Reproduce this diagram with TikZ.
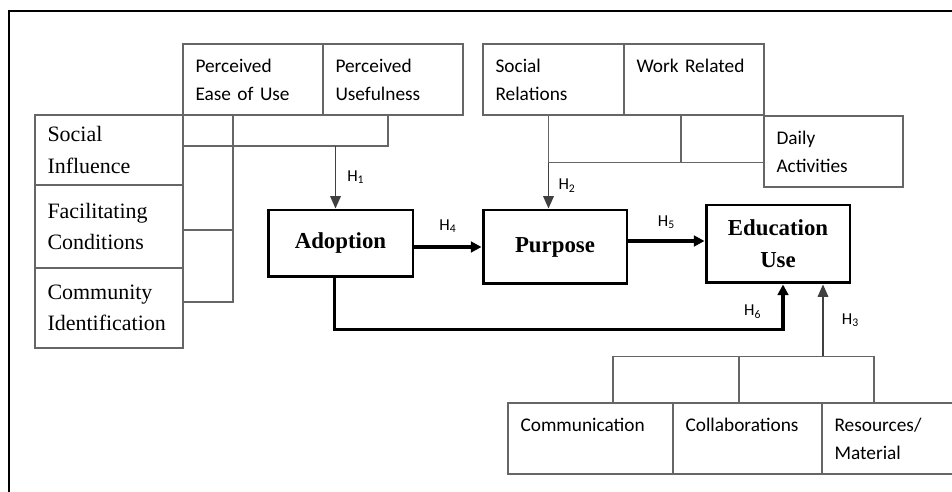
\documentclass[tikz,border=0pt]{standalone}
\usepackage{fontspec}
\setmainfont{Liberation Serif}
\setsansfont{Carlito}
\usetikzlibrary{arrows.meta}

\begin{document}
\begin{tikzpicture}[x=0.02cm,y=-0.02cm,
  thinbox/.style={draw=black!60,line width=.8pt,inner sep=0pt,align=left,
    minimum height=1.42cm,font=\sffamily\fontsize{11}{16}\selectfont},
  serifbox/.style={thinbox,font=\rmfamily\fontsize{12.5}{18}\selectfont},
  mainbox/.style={draw,line width=1.7pt,inner sep=0pt,align=center,
    font=\bfseries\fontsize{13}{18}\selectfont},
  link/.style={draw=black!60,line width=.8pt},
  thinarrow/.style={draw=black!75,line width=.8pt,-{Triangle[length=7pt,width=6pt]}},
  thickarrow/.style={line width=1.9pt,-{Triangle[length=6pt,width=6pt]}},
  hlabel/.style={font=\sffamily\fontsize{9.5}{11}\selectfont}]
\useasboundingbox (0,0) rectangle (952,492);
% frame
\draw[line width=1.2pt] (9,500) -- (9,11) -- (960,11);
% adoption factors
\node[thinbox,minimum width=2.8cm,text width=2.3cm] (peu) at (253,79.5) {Perceived\\Ease of Use};
\node[thinbox,minimum width=2.8cm,text width=2.3cm] (pu) at (393,79.5) {Perceived\\Usefulness};
\node[serifbox,minimum width=2.96cm,minimum height=1.4cm,text width=2.46cm] (si) at (109,150) {Social\\Influence};
\node[serifbox,minimum width=2.96cm,minimum height=1.66cm,text width=2.46cm] (fc) at (109,226.5) {Facilitating\\Conditions};
\node[serifbox,minimum width=2.96cm,minimum height=1.6cm,text width=2.46cm] (ci) at (109,308) {Community\\Identification};
% purpose factors
\node[thinbox,minimum width=2.82cm,text width=2.32cm] (sr) at (553.5,79.5) {Social\\Relations};
\node[thinbox,minimum width=2.8cm,text width=2.3cm] (wr) at (694,79.5) {Work Related\\\phantom{Related}};
\node[thinbox,minimum width=2.78cm,text width=2.28cm] (da) at (833.5,151.5) {Daily\\Activities};
% main constructs
\node[mainbox,minimum width=2.9cm,minimum height=1.34cm] (adopt) at (340.5,243.5) {Adoption};
\node[mainbox,minimum width=2.88cm,minimum height=1.48cm] (pur) at (555,247) {Purpose};
\node[mainbox,minimum width=2.88cm,minimum height=1.56cm] (edu) at (778,244) {Education\\Use};
% education use factors
\node[thinbox,minimum width=3.3cm,text width=2.8cm] (comm) at (590.5,438.5) {Communication\\\phantom{Material}};
\node[thinbox,minimum width=2.98cm,text width=2.48cm] (coll) at (747.5,438.5) {Collaborations\\\phantom{Material}};
\node[thinbox,minimum width=2.8cm,text width=2.3cm] (res) at (892,438.5) {Resources/\\Material};

% H1
\coordinate (lineA) at ([yshift=0.08cm]si.east);
\coordinate (puB) at ([xshift=-0.1cm]pu.south);
\coordinate (peuB) at ([xshift=-0.4cm]peu.south);
\coordinate (adoptN) at ([xshift=-0.1cm]adopt.north);
\draw[link] (lineA) -| (puB);
\draw[link] (peuB) |- ([yshift=0.12cm]ci.east);
\draw[link] ([yshift=-0.07cm]fc.east) -- ++(50,0);
\draw[thinarrow] (adoptN |- lineA) -- node[hlabel,right=3pt]{H\textsubscript{1}} (adoptN);
% H2
\coordinate (srB) at ([xshift=-0.1cm]sr.south);
\coordinate (lineB) at ([yshift=-0.94cm]srB);
\coordinate (wrB) at ([xshift=-0.26cm]wr.south);
\draw[link] (srB) -- (lineB) -- (lineB -| da.west);
\draw[link] (wrB) -- (wrB |- lineB);
\draw[thinarrow] (lineB) -- node[hlabel,right=2pt]{H\textsubscript{2}} (lineB |- pur.north);
% H4, H5, H6
\coordinate (purE) at ([yshift=0.12cm]pur.east);
\coordinate (eduS) at ([xshift=0.1cm]edu.south);
\draw[thickarrow] (adopt.east |- pur.west) -- node[hlabel,above=4pt]{H\textsubscript{4}} (pur.west);
\draw[thickarrow] (purE) -- node[hlabel,above=3pt]{H\textsubscript{5}} (purE -| edu.west);
\draw[thickarrow] ([xshift=-0.12cm]adopt.south) -- ++(0,51) -| node[hlabel,pos=.7,left=8pt]{H\textsubscript{6}} (eduS);
% H3
\coordinate (commT) at ([xshift=0.45cm]comm.north);
\coordinate (lineC) at ([yshift=0.92cm]commT);
\coordinate (collT) at ([xshift=-0.17cm]coll.north);
\coordinate (resT) at ([xshift=-0.36cm]res.north);
\coordinate (eduH) at ([xshift=0.9cm]edu.south);
\draw[link] (commT) -- (lineC) -- (lineC -| resT) -- (resT);
\draw[link] (collT) -- (collT |- lineC);
\draw[thinarrow] (eduH |- lineC) -- node[hlabel,right=7pt]{H\textsubscript{3}} (eduH);
\end{tikzpicture}
\end{document}
